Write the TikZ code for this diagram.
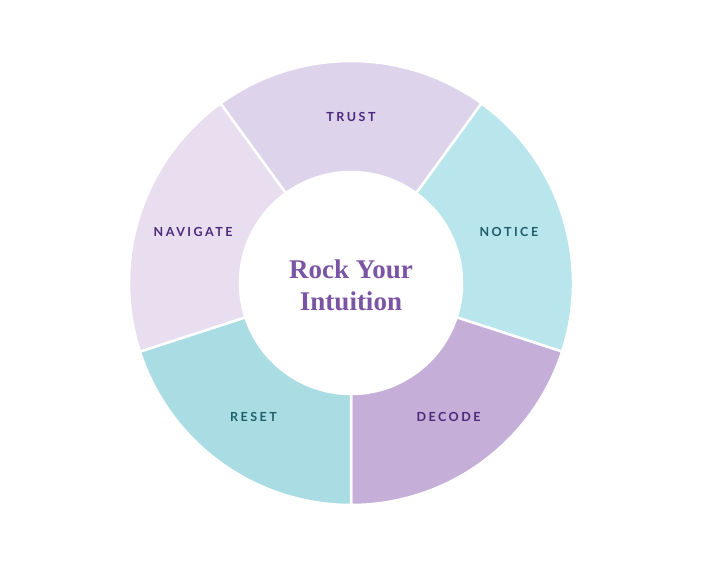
\documentclass[tikz,border=0pt]{standalone}
\usepackage{fontspec}
\setmainfont{Liberation Serif}
\newfontfamily\lab[LetterSpace=20]{Lato}
\definecolor{cTrust}{HTML}{DDD3EB}
\definecolor{cNotice}{HTML}{B8E6EC}
\definecolor{cDecode}{HTML}{C5AED8}
\definecolor{cReset}{HTML}{A9DDE3}
\definecolor{cNav}{HTML}{E8DEF0}
\definecolor{tPurple}{HTML}{4B2A7B}
\definecolor{tTeal}{HTML}{1F5F6A}
\definecolor{tCenter}{HTML}{7B55A5}
\begin{document}
\begin{tikzpicture}[x=1pt,y=1pt,
  seg/.style={draw=white,line width=2.5pt},
  lbl/.style={font=\lab\bfseries\fontsize{12.5}{14}\selectfont}]
\useasboundingbox (0,-575) rectangle (703,0);
\coordinate (c) at (351,-283);
\def\R{222}\def\r{111}
\foreach \a/\col in {54/cTrust,342/cNotice,270/cDecode,198/cReset,126/cNav}{
  \filldraw[fill=\col,seg] ([shift={(c)}]\a:\R) arc[start angle=\a,end angle=\a+72,radius=\R] -- ([shift={(c)}]\a+72:\r) arc[start angle=\a+72,end angle=\a,radius=\r] -- cycle;
}
\node[lbl,text=tPurple] (trust) at ([shift={(c)}]90:166) {TRUST};
\node[lbl,text=tTeal] (notice) at ([shift={(c)}]18:166) {NOTICE};
\node[lbl,text=tPurple] (decode) at ([shift={(c)}]306:166) {DECODE};
\node[lbl,text=tTeal] (reset) at ([shift={(c)}]234:166) {RESET};
\node[lbl,text=tPurple] (nav) at ([shift={(c)}]162:166) {NAVIGATE};
\node[align=center,text=tCenter,font=\bfseries\fontsize{27}{32}\selectfont] (title) at ([yshift=-2pt]c) {Rock Your\\Intuition};
\end{tikzpicture}
\end{document}
